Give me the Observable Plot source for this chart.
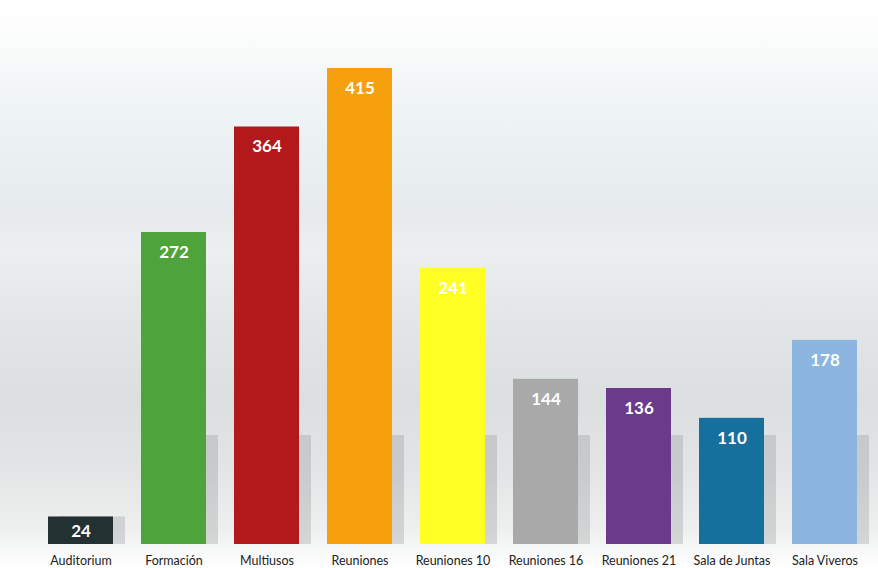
<!DOCTYPE html>
<html>
<head>
<meta charset="utf-8">
<script src="https://cdn.jsdelivr.net/npm/d3@7"></script>
<script src="https://cdn.jsdelivr.net/npm/@observablehq/plot@0.6"></script>
<style>
  html, body { margin: 0; padding: 0; background: #ffffff; }
  #chart { width: 878px; height: 568px; }
</style>
</head>
<body>
<div id="chart"></div>
<script>
const categories = ["Auditorium", "Formación", "Multiusos", "Reuniones", "Reuniones 10", "Reuniones 16", "Reuniones 21", "Sala de Juntas", "Sala Viveros"];
const values = [24, 272, 364, 415, 241, 144, 136, 110, 178];
const colors = ["#243132", "#4fa33b", "#b3191b", "#f5a00c", "#ffff24", "#a8a9a8", "#6b3a8b", "#16709e", "#8cb5e0"];

const data = categories.map((c, i) => ({category: c, value: values[i], color: colors[i]}));

const bg = "linear-gradient(to bottom, #ffffff 0px, #fbfcfc 40px, #f1f5f6 90px, #eaf0f2 160px, #e6eaec 210px, #eceff0 250px, #e3e6e7 320px, #dcdfe0 400px, #e2e4e5 470px, #eef0f0 530px, #ffffff 568px)";

const plot = Plot.plot({
  width: 878,
  height: 568,
  marginTop: 68,
  marginBottom: 24,
  marginLeft: 44,
  marginRight: 17,
  style: {fontFamily: "Lato, 'Open Sans', sans-serif", background: bg},
  x: {domain: categories, paddingInner: 0.3, paddingOuter: 0, label: null},
  y: {domain: [0, 415], axis: null},
  marks: [
    Plot.rectY(data, {x: "category", y1: 0, y2: d => Math.min(d.value, 95), fill: "#8e9091", fillOpacity: 0.3, dx: 12}),
    Plot.barY(data, {x: "category", y: "value", fill: "color"}),
    Plot.text(data.filter(d => d.value >= 50), {x: "category", y: "value", text: d => String(d.value), dy: 20, fill: "#ffffff", fontSize: 17, fontWeight: "bold"}),
    Plot.text(data.filter(d => d.value < 50), {x: "category", y: "value", text: d => String(d.value), dy: 15, fill: "#ffffff", fontSize: 17, fontWeight: "bold"}),
    Plot.axisX({tickSize: 0, tickPadding: 12, fontSize: 12.5, color: "#222"})
  ]
});
document.getElementById("chart").appendChild(plot);
</script>
</body>
</html>
